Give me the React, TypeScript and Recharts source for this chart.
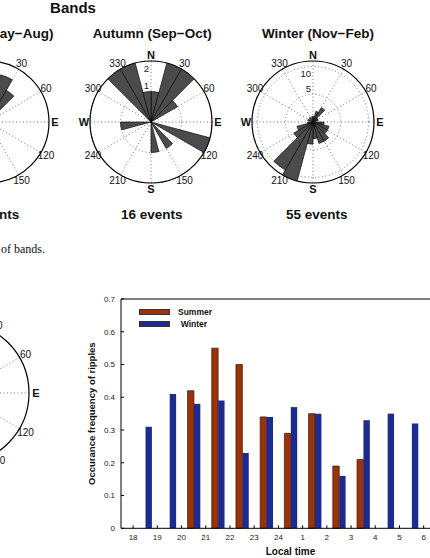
import React from 'react';
import {
  BarChart, Bar, XAxis, YAxis, Legend,
  RadarChart, Radar, RadialBarChart, RadialBar,
  PolarGrid, PolarAngleAxis, PolarRadiusAxis,
} from 'recharts';

const SANS = '"Liberation Sans", Arial, Helvetica, sans-serif';
const SERIF = '"Liberation Serif", "Times New Roman", serif';

// occurrence frequency of ripples per local-time hour (bin starts at the tick on its left)
const hourLabels = ['18', '19', '20', '21', '22', '23', '24', '1', '2', '3', '4', '5', '6'];
const summerFreq = [null, null, 0.42, 0.55, 0.5, 0.34, 0.29, 0.35, 0.19, 0.21, null, null];
const winterFreq = [0.31, 0.41, 0.38, 0.39, 0.23, 0.34, 0.37, 0.35, 0.16, 0.33, 0.35, 0.32];
const freqTicks = [0, 0.1, 0.2, 0.3, 0.4, 0.5, 0.6, 0.7];

// rose diagrams: number of events per 15 deg direction bin, clockwise from N
const dirBins = ['0', '15', '30', '45', '60', '75', '90', '105', '120', '135', '150', '165',
  '180', '195', '210', '225', '240', '255', '270', '285', '300', '315', '330', '345'];
const compassLabels = ['N', '30', '60', 'E', '120', '150', 'S', '210', '240', 'W', '300', '330'];
const summerCounts = [0, 4, 3, 0, 0, 0, 0, 0, 0, 0, 0, 0, 0, 0, 0, 0, 0, 0, 0, 0, 0, 0, 0, 0];
const autumnCounts = [1, 2, 2, 1, 0, 0, 0, 2, 0, 1, 0, 1, 0, 0, 0, 0, 0, 1, 0, 0, 0, 2, 2, 1];
const winterCounts = [1, 2, 3, 1, 1, 0, 2, 3, 3, 4, 4, 3, 4, 11, 10, 4, 3, 1, 0, 1, 0, 1, 0, 1];

const CompassTick = (props: any) => {
  const { x, y, payload } = props;
  const letter = /[A-Z]/.test(String(payload.value));
  return (
    <text x={x} y={y} textAnchor="middle" dominantBaseline="central" fontFamily={SANS}
      fontSize={letter ? 11 : 10} fontWeight={letter ? 700 : 400} fill="#111">
      {payload.value}
    </text>
  );
};

// first ring label sits just outside its ring, the last one just inside
const RingTick = (props: any) => {
  const { x, y, payload, index } = props;
  return (
    <text x={x - 2} y={y + (index === 0 ? -6 : 7)} textAnchor="end" dominantBaseline="central"
      fontFamily={SANS} fontSize={9.5} fill="#222">
      {payload.value}
    </text>
  );
};

type RoseProps = {
  counts?: number[];
  rMax: number;
  rings: number[];
  size: number;
  radius: number;
  left: number;
  top: number;
};

const Rose = ({ counts, rMax, rings, size, radius, left, top }: RoseProps) => {
  const c = size / 2;
  const frame = compassLabels.map((d) => ({ dir: d, zero: 0 }));
  const bins = counts ? dirBins.map((d, i) => ({ dir: d, n: counts[i] })) : [];
  return (
    <div style={{ position: 'absolute', left, top, width: size, height: size }}>
      <div style={{ position: 'absolute', left: 0, top: 0 }}>
        <RadarChart width={size} height={size} cx={c} cy={c} outerRadius={radius} data={frame}
          startAngle={90} endAngle={-270}>
          <PolarGrid gridType="circle" stroke="#777" strokeDasharray="1 2.5" />
          <PolarAngleAxis dataKey="dir" stroke="#000" strokeWidth={1.2} axisLineType="circle"
            tickLine={false} tickSize={Math.round(radius * 0.1)} tick={<CompassTick />} />
          <PolarRadiusAxis type="number" angle={90} domain={[0, rMax]} ticks={rings}
            axisLine={false} tickLine={false} tick={<RingTick />} />
          <Radar dataKey="zero" stroke="none" fill="none" dot={false} isAnimationActive={false} />
        </RadarChart>
      </div>
      {counts && (
        <div style={{ position: 'absolute', left: 0, top: 0 }}>
          {/* bands are laid out from startAngle backwards, so start one bin (15 deg) early */}
          <RadialBarChart width={size} height={size} cx={c} cy={c} innerRadius={0} outerRadius={radius}
            data={bins} layout="centric" startAngle={75} endAngle={-285} barCategoryGap={0} barGap={0}>
            <PolarAngleAxis type="category" dataKey="dir" tick={false} axisLine={false} tickLine={false} />
            <PolarRadiusAxis type="number" domain={[0, rMax]} tick={false} axisLine={false} tickLine={false} />
            <RadialBar dataKey="n" fill="#4b4b4b" stroke="#000" strokeWidth={0.6} isAnimationActive={false} />
          </RadialBarChart>
        </div>
      )}
    </div>
  );
};

const Caption = ({ x, y, size, bold = true, align = 'center', serif = false, children }: any) => {
  const shift = align === 'center' ? '-50%' : align === 'right' ? '-100%' : '0';
  return (
    <div style={{
      position: 'absolute', left: x, top: y, transform: `translate(${shift}, -50%)`,
      fontFamily: serif ? SERIF : SANS, fontSize: size, fontWeight: bold ? 700 : 400,
      lineHeight: 1, whiteSpace: 'nowrap', color: '#111',
    }}>
      {children}
    </div>
  );
};

const SeasonLegend = ({ payload }: any) => (
  <div style={{ fontFamily: SANS, fontSize: 8.5, fontWeight: 700, color: '#111', textAlign: 'left' }}>
    {(payload || []).map((p: any, i: number) => (
      <div key={p.value} style={{ display: 'flex', alignItems: 'center', height: 11.4 }}>
        <span style={{
          display: 'inline-block', width: 31, height: 6, background: p.color,
          border: '0.5px solid #333', boxSizing: 'border-box', marginRight: i === 0 ? 7.7 : 10.4,
        }} />
        <span>{p.value}</span>
      </div>
    ))}
  </div>
);

const RippleBars = () => {
  const rows = winterFreq.map((w, i) => ({ slot: i + 0.5, summer: summerFreq[i], winter: w }));
  const slotTicks = hourLabels.map((_, i) => i);
  return (
    <div style={{ position: 'absolute', left: 60, top: 280 }}>
      <BarChart width={410} height={280} data={rows} barGap={0} barSize={6.4}
        margin={{ top: 18, right: 10, bottom: 1.7, left: 20 }}>
        <XAxis xAxisId="frame" orientation="top" type="number" domain={[-0.5, 13.5]} ticks={slotTicks}
          height={1} tick={false} tickSize={-3} stroke="#000" />
        <XAxis type="number" dataKey="slot" domain={[-0.5, 13.5]} ticks={slotTicks} interval={0}
          tickFormatter={(v) => hourLabels[v]} tickSize={-3} tickMargin={9} height={30} stroke="#000"
          tick={{ fill: '#222', fontSize: 8, fontFamily: SANS }}
          label={{ value: 'Local time', position: 'insideBottom', offset: 3.3, fill: '#111',
            fontSize: 10, fontWeight: 700, fontFamily: SANS }} />
        <YAxis type="number" domain={[0, 0.7]} ticks={freqTicks} interval={0} width={41} stroke="#000"
          tickSize={-3} tickMargin={9} tick={{ fill: '#222', fontSize: 8, fontFamily: SANS }}
          tickFormatter={(v) => (v === 0 ? '0' : v.toFixed(1))}
          label={{ value: 'Occurance frequency of ripples', angle: -90, position: 'insideLeft', offset: 12,
            fill: '#111', fontSize: 9.5, fontWeight: 700, fontFamily: SANS, style: { textAnchor: 'middle' } }} />
        <Legend layout="horizontal" align="center" verticalAlign="middle" content={<SeasonLegend />}
          wrapperStyle={{ left: 79.3, top: 26.6, width: 120 }} />
        <Bar dataKey="summer" name="Summer" fill="#9b3309" stroke="#3b1203" strokeWidth={0.7}
          isAnimationActive={false} />
        <Bar dataKey="winter" name="Winter" fill="#1d2b8e" isAnimationActive={false} />
      </BarChart>
    </div>
  );
};

export default function App() {
  return (
    <div style={{
      position: 'absolute', left: 0, top: 0, width: 430, height: 558, overflow: 'hidden', background: '#fff',
    }}>
      <Caption x={73} y={7.2} size={15}>Bands</Caption>
      <Caption x={53.5} y={34.3} size={13.5} align="right">Summer (May−Aug)</Caption>
      <Caption x={152.3} y={34.3} size={13.5}>Autumn (Sep−Oct)</Caption>
      <Caption x={318} y={34.3} size={13.5}>Winter (Nov−Feb)</Caption>

      <Rose counts={summerCounts} rMax={5} rings={[]} size={160} radius={61} left={-92} top={42.3} />
      <Rose counts={autumnCounts} rMax={2} rings={[1, 2]} size={160} radius={61} left={70.7} top={42.3} />
      <Rose counts={winterCounts} rMax={11} rings={[5, 10]} size={160} radius={61} left={233.3} top={42.3} />

      <Caption x={19.3} y={215.3} size={13.5} align="right">events</Caption>
      <Caption x={151.7} y={215.3} size={13.5}>16 events</Caption>
      <Caption x={316.8} y={215.3} size={13.5}>55 events</Caption>

      <Caption x={1} y={249} size={12} bold={false} align="left" serif>of bands.</Caption>

      <Rose rMax={5} rings={[]} size={180} radius={71} left={-132} top={302.7} />

      <RippleBars />
    </div>
  );
}
